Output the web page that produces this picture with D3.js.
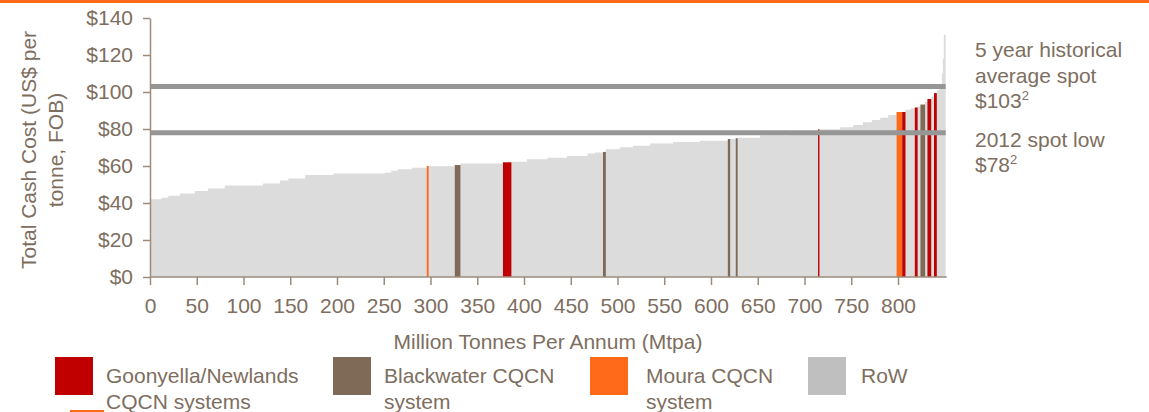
<!DOCTYPE html>
<html>
<head>
<meta charset="utf-8">
<script src="https://cdn.jsdelivr.net/npm/d3@7"></script>
<style>
  html, body { margin: 0; padding: 0; background: #fff; }
  svg { display: block; font-family: "Liberation Sans", Arial, sans-serif; }
</style>
</head>
<body>
<svg id="chart" width="1149" height="412"></svg>
<script>
// Seaborne coal cash cost curve: each step is one supply block (width = Mtpa, height = US$/t FOB)
const capacityMtpa = [12.5, 7.1, 12.4, 16, 14, 18, 41, 18, 9, 18, 30, 55, 7, 7, 15, 16,
  2, 28, 6, 45.5, 9, 16.5, 22, 21, 22, 8, 8.5, 3, 15, 14, 18.5, 24.5, 28.5, 30,
  2.5, 6, 2, 24, 32, 30, 1.5, 22, 14, 10.5, 9.5, 9, 8.5, 9, 6, 3.5, 6, 4, 3, 3,
  5, 2.5, 4, 3, 3, 2.5, 3, 1, 1, 2];
const cashCost = [42.0, 42.9, 43.9, 45.2, 46.5, 47.9, 49.5, 50.6, 52.1, 53.3, 55.1, 55.9, 56.4, 57.5, 58.2, 59.1,
  60.0, 59.8, 60.5, 61.4, 62.0, 62.3, 63.6, 64.5, 65.4, 66.8, 67.3, 67.6, 69.0, 70.1, 71.0, 72.1, 73.0, 73.7,
  74.6, 74.6, 75.0, 75.3, 76.6, 78.2, 79.8, 79.8, 80.9, 82.2, 83.6, 84.9, 86.1, 87.6, 89.2, 89.2, 90.4, 91.2, 91.6, 92.2,
  93.2, 94.5, 96.2, 97.6, 99.4, 101.0, 104.0, 110, 118, 131];
// G = Goonyella/Newlands, B = Blackwater, M = Moura, R = rest of world
const railSystem = ["R","R","R","R","R","R","R","R","R","R","R","R","R","R","R","R",
  "M","R","B","R","G","R","R","R","R","R","R","B","R","R","R","R","R","R",
  "B","R","B","R","R","R","G","R","R","R","R","R","R","R","M","G","R","R","G","R",
  "B","R","G","R","G","R","R","R","R","R"];

const xTicks = [0, 50, 100, 150, 200, 250, 300, 350, 400, 450, 500, 550, 600, 650, 700, 750, 800];
const yTicks = [0, 20, 40, 60, 80, 100, 120, 140];

const spotAverage5yr = 103;
const spotLow2012 = 78;

const legendCodes = ["G", "B", "M", "R"];
const legendLines = [["Goonyella/Newlands", "CQCN systems"], ["Blackwater CQCN", "system"], ["Moura CQCN", "system"], ["RoW"]];

const barColor = { G: "#C00000", B: "#7F6A57", M: "#FF6A1A", R: "#DCDCDC" };
const swatchColor = { G: "#C00000", B: "#7F6A57", M: "#FF6A1A", R: "#BFBFBF" };
const textColor = "#7E6E60";
const axisColor = "#9D8B7C";

const svg = d3.select("#chart");

// page header rule
svg.append("rect").attr("x", 0).attr("y", 0).attr("width", 1149).attr("height", 3).attr("fill", "#FF6A1A");

const ends = d3.cumsum(capacityMtpa);
const blocks = capacityMtpa.map((w, i) => ({
  start: ends[i] - w, end: ends[i], cost: cashCost[i], sys: railSystem[i]
}));
const totalMtpa = ends[ends.length - 1];

const x = d3.scaleLinear().domain([0, totalMtpa]).range([150, 150 + totalMtpa * 0.935]);
const y = d3.scaleLinear().domain([0, 140]).range([277, 18]);

// whole supply curve as one stepped area
const stepPts = [];
blocks.forEach(b => { stepPts.push([b.start, b.cost]); stepPts.push([b.end, b.cost]); });
svg.append("path")
  .datum(stepPts)
  .attr("fill", barColor.R)
  .attr("d", d3.area().x(d => x(d[0])).y0(y(0)).y1(d => y(d[1])));

// highlighted CQCN blocks
svg.append("g").selectAll("rect")
  .data(blocks.filter(b => b.sys !== "R"))
  .join("rect")
  .attr("x", d => x(d.start))
  .attr("width", d => Math.max(1.2, x(d.end) - x(d.start)))
  .attr("y", d => y(d.cost))
  .attr("height", d => y(0) - y(d.cost))
  .attr("fill", d => barColor[d.sys]);

// reference price lines
svg.append("g").selectAll("line")
  .data([spotAverage5yr, spotLow2012])
  .join("line")
  .attr("x1", x(0)).attr("x2", x(totalMtpa))
  .attr("y1", d => y(d)).attr("y2", d => y(d))
  .attr("stroke", "#969696").attr("stroke-width", 5);

// axes
const xAxis = svg.append("g")
  .attr("transform", `translate(0,${y(0)})`)
  .call(d3.axisBottom(x).tickValues(xTicks).tickSize(8).tickPadding(13).tickSizeOuter(0));
const yAxis = svg.append("g")
  .attr("transform", `translate(${x(0)},0)`)
  .call(d3.axisLeft(y).tickValues(yTicks).tickSize(7).tickPadding(10).tickSizeOuter(0).tickFormat(d => "$" + d));
[xAxis, yAxis].forEach(g => {
  g.select(".domain").attr("stroke", axisColor).attr("stroke-width", 1.5);
  g.selectAll(".tick line").attr("stroke", axisColor).attr("stroke-width", 1.5);
  g.selectAll(".tick text").attr("fill", textColor).attr("font-size", 21).attr("font-family", "Liberation Sans, Arial, sans-serif");
});
// extend x-axis line to the end of the curve
xAxis.select(".domain").attr("d", `M${x(0)},0H${x(totalMtpa) + 1}`);

// axis titles
svg.append("text")
  .attr("x", 548).attr("y", 349)
  .attr("text-anchor", "middle")
  .attr("font-size", 21).attr("fill", textColor)
  .text("Million Tonnes Per Annum (Mtpa)");

const yTitle = svg.append("text")
  .attr("transform", "translate(36,150) rotate(-90)")
  .attr("text-anchor", "middle")
  .attr("font-size", 21).attr("fill", textColor);
yTitle.append("tspan").attr("x", 0).attr("y", 0).text("Total Cash Cost (US$ per");
yTitle.append("tspan").attr("x", 0).attr("y", 27).text("tonne, FOB)");

// price annotations
const note = svg.append("g").attr("font-size", 21).attr("fill", textColor);
const noteLines = [
  { y: 57, txt: "5 year historical" },
  { y: 83, txt: "average spot" },
  { y: 108, txt: "$" + spotAverage5yr, sup: "2" },
  { y: 147, txt: "2012 spot low" },
  { y: 172, txt: "$" + spotLow2012, sup: "2" }
];
noteLines.forEach(l => {
  const t = note.append("text").attr("x", 975).attr("y", l.y);
  t.append("tspan").text(l.txt);
  if (l.sup) t.append("tspan").attr("dy", -8).attr("font-size", 13).text(l.sup);
});

// legend
const legendX = [55, 333, 590, 808];
const legendTextX = [106, 384, 646, 861];
const lg = svg.append("g");
legendCodes.forEach((c, i) => {
  lg.append("rect")
    .attr("x", legendX[i]).attr("y", 357).attr("width", 38).attr("height", 38)
    .attr("fill", swatchColor[c]);
  const t = lg.append("text").attr("font-size", 21).attr("fill", textColor);
  legendLines[i].forEach((s, j) => {
    t.append("tspan").attr("x", legendTextX[i]).attr("y", 383 + j * 26).text(s);
  });
});
// next legend row, cut off by the page edge
lg.append("line").attr("x1", 70).attr("x2", 104).attr("y1", 411).attr("y2", 411)
  .attr("stroke", swatchColor.M).attr("stroke-width", 2);
</script>
</body>
</html>
